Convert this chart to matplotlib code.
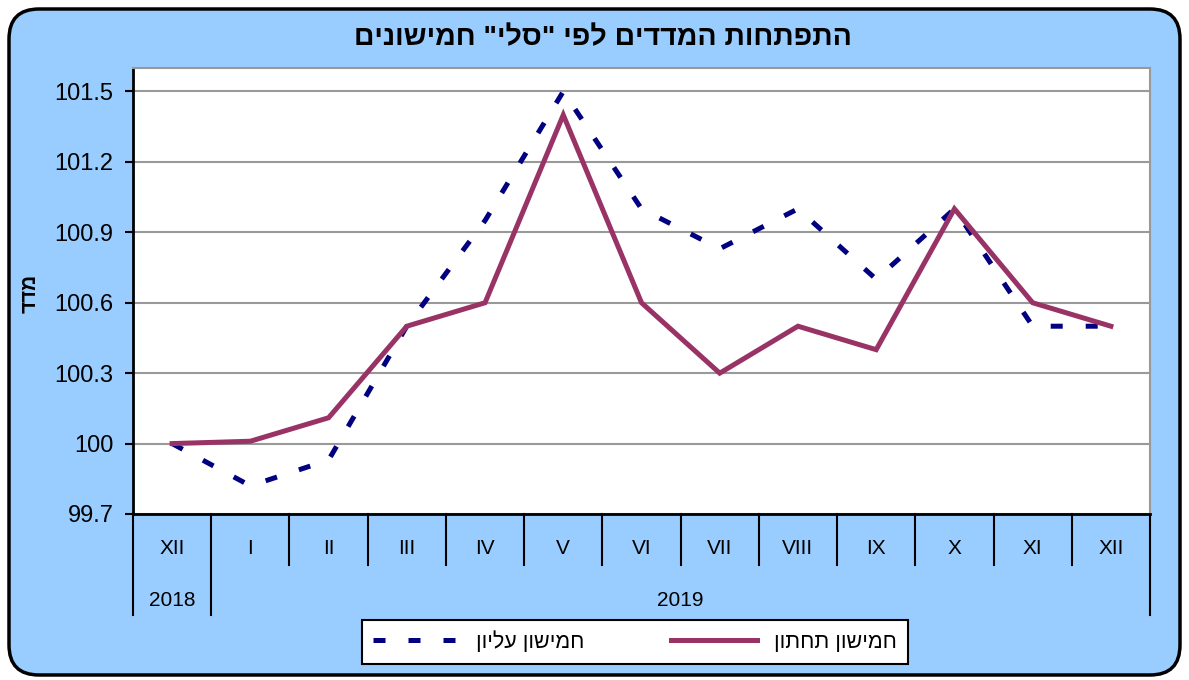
import matplotlib.pyplot as plt
from matplotlib.patches import FancyBboxPatch

plt.rcParams['font.family'] = ['Liberation Sans', 'DejaVu Sans']


def rtl(s):
    # matplotlib has no bidi support, so Hebrew is laid out reversed
    return s[::-1]


months = ['XII', 'I', 'II', 'III', 'IV', 'V', 'VI', 'VII', 'VIII', 'IX', 'X', 'XI', 'XII']
years = ['2018', '2019']
upper = [100.0, 99.82, 99.93, 100.5, 100.95, 101.5, 101.0, 100.83, 101.0, 100.7, 101.0, 100.5, 100.5]
lower = [100.0, 100.01, 100.11, 100.5, 100.6, 101.4, 100.6, 100.3, 100.5, 100.4, 101.0, 100.6, 100.5]
yticks = [99.7, 100.0, 100.3, 100.6, 100.9, 101.2, 101.5]
ytick_labels = ['99.7', '100', '100.3', '100.6', '100.9', '101.2', '101.5']

title = 'התפתחות המדדים לפי "סלי" חמישונים'
ylabel = 'מדד'
name_upper = 'חמישון עליון'
name_lower = 'חמישון תחתון'

fig = plt.figure(figsize=(11.89, 6.8), dpi=100)
fig.patch.set_facecolor('white')

# rounded light blue frame
frame = FancyBboxPatch((0.09, 0.05), 11.71, 6.66,
                       boxstyle='round,pad=0,rounding_size=0.3',
                       transform=fig.dpi_scale_trans,
                       facecolor='#99CCFF', edgecolor='black', linewidth=2.5, zorder=0)
fig.add_artist(frame)

ax = fig.add_axes([133 / 1189, 1 - 514 / 680, (1150 - 133) / 1189, (514 - 68) / 680])
ax.set_facecolor('white')

x = list(range(len(months)))
ax.plot(x, upper, color='#000080', linewidth=3.6, dashes=(2.4, 4.6),
        dash_capstyle='butt', label=rtl(name_upper), zorder=3)
ax.plot(x, lower, color='#993366', linewidth=3.6, solid_joinstyle='miter',
        label=rtl(name_lower), zorder=4)

ax.set_xlim(-0.5, len(months) - 0.5)
ax.set_ylim(99.7, 101.6)
ax.set_yticks(yticks)
ax.set_yticklabels(ytick_labels, fontsize=17)
ax.tick_params(axis='y', direction='out', length=6, width=1.5, pad=8)
ax.set_xticks([])
ax.grid(axis='y', color='#999999', linewidth=1.5)
ax.set_axisbelow(True)

for side in ['left', 'bottom']:
    ax.spines[side].set_color('black')
    ax.spines[side].set_linewidth(2)
for side in ['top', 'right']:
    ax.spines[side].set_color('#999999')
    ax.spines[side].set_linewidth(1.5)

# category axis: month labels, separators, year labels
trans = ax.get_xaxis_transform()
for i, m in enumerate(months):
    ax.text(i, -0.078, m, transform=trans, ha='center', va='center', fontsize=15)
for k in range(len(months) + 1):
    bottom = -0.226 if k in (0, 1, len(months)) else -0.114
    ax.plot([k - 0.5, k - 0.5], [0, bottom], transform=trans, color='black',
            linewidth=1.5, clip_on=False)
ax.text(0, -0.195, years[0], transform=trans, ha='center', va='center', fontsize=15)
ax.text((1 + len(months) - 1) / 2, -0.195, years[1], transform=trans,
        ha='center', va='center', fontsize=15)

fig.text(0.507, 1 - 38 / 680, rtl(title), ha='center', va='center',
         fontsize=20.5, fontweight='bold')
fig.text(30 / 1189, 1 - 293 / 680, rtl(ylabel), ha='center', va='center',
         rotation=90, fontsize=15, fontweight='bold')

leg = fig.legend(loc='center', bbox_to_anchor=(635 / 1189, 1 - 642 / 680), ncol=2,
                 fontsize=15.5, frameon=True, fancybox=False, framealpha=1,
                 handlelength=4, columnspacing=4, borderpad=0.5)
leg.get_frame().set_edgecolor('black')
leg.get_frame().set_linewidth(1.5)

fig.savefig('out.png', dpi=100)
